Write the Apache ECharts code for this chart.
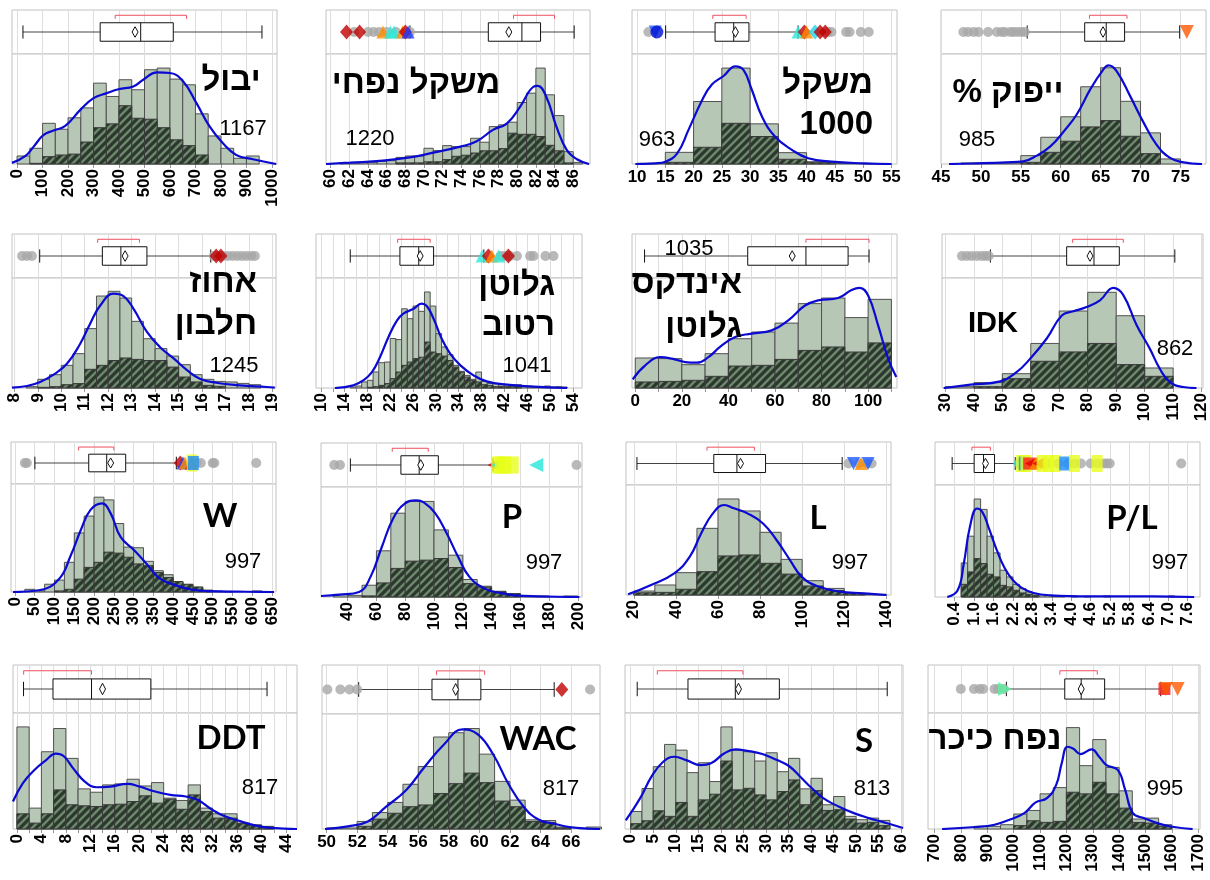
<!DOCTYPE html>
<html><head><meta charset="utf-8">
<script src="https://cdn.jsdelivr.net/npm/echarts@6/dist/echarts.min.js"></script>
<style>html,body{margin:0;padding:0;background:#fff}#c{width:1210px;height:880px}</style>
</head><body><div id="c"></div>
<script>
// ---------- DATA (heights are % of histogram panel height) ----------
// 1 יבול
const yieldBin = [0, 50];
const yieldLight = [7.3,14.3,37,31.6,42,51,73.5,61.4,76.6,67.5,85.7,87.2,77.2,72,45.6,25.5,14.3,5.2,7.3];
const yieldDark = [0,0.6,6.7,8.2,9,20,33,36.5,53,41.6,40.7,33,22,16.7,8.2,0,0,0,0];
const yieldDensity = [[-20,1],[33,7.3],[65,15.8],[104,26.4],[143,30.4],[189,34.7],[248,49.2],[300,59.9],[352,64.4],[398,68],[456,70.5],[495,76.6],[548,83.3],[600,82.7],[652,75],[704,55.3],[756,34],[808,18.8],[860,8.2],[926,4.3],[1017,0]];
const yieldBox = [23,326,485,613,961,463,385,665];
const yieldGrey = [];
const yieldMarks = [];
const yieldRange = [-20,1020];
const yieldTicks = [0,100,200,300,400,500,600,700,800,900,1000];
// 2 משקל נפחי
const twBin = [61, 1];
const twLight = [0.9,0.9,1.2,1.5,2.4,3,6,7.3,7.3,14.3,12.2,16.7,15.8,15.8,23.4,19.8,34,35.6,38,55.9,64.4,87.2,62.9,44,11.2,1.5];
const twDark = [0,0,0,0,0,0,1,1,1,2,2,4,7,8,10,12,12,14,28,27,27,25,17,12,1,0];
const twDensity = [[59.5,0],[62.1,1.2],[65.6,3],[68.5,6],[71,10.3],[73.9,15.8],[75.6,20.4],[77.4,31],[78.9,37],[80.3,52],[81.7,70],[82.2,71],[83.1,61.4],[84.2,34],[85.3,12.8],[86.4,4.3],[87.7,0]];
const twBox = [68.5,76.9,80.5,82.5,86.1,79.1,79.6,84];
const twGrey = [62.5,64,64.6,65.2,66,67,68.5];
const twMarks = [[61.7,'rd'],[63.1,'rd'],[65.6,'ot'],[66.4,'ct'],[66.8,'ct'],[67.7,'ot'],[68.0,'rd'],[68.3,'bt']];
const twRange = [59.5,87.8];
const twTicks = [60,62,64,66,68,70,72,74,76,78,80,82,84,86];
// 3 משקל 1000
const tkwBin = [10, 5];
const tkwLight = [0.6,10.6,56.8,87.2,36.5,10.3,2.1,0.6,0.3];
const tkwDark = [0,1.5,15.2,37,25,4.3,1.2,0,0];
const tkwDensity = [[9.7,0],[13.2,0.6],[15,2.1],[17.1,9.7],[19.1,31],[21.5,58],[23.2,72],[25.3,80],[27.4,88.8],[28.8,85.7],[30.3,67.5],[32.1,43.2],[34.4,25],[37.4,12.8],[40.3,5.2],[44.4,2.1],[50.3,0.6],[55,0]];
const tkwBox = [15.05,23.8,27.1,29.8,38.5,27.4,23.4,29.3];
const tkwGrey = [12,43.8,44.4,47,47.6,49.6,51];
const tkwMarks = [[13.2,'bd'],[13.5,'bc'],[38.5,'ct'],[39.6,'rd'],[40,'ot'],[41.5,'cd'],[42.4,'rd'],[43.3,'rd']];
const tkwRange = [9.1,56];
const tkwTicks = [10,15,20,25,30,35,40,45,50,55];
// 4 ייפוק %
const flourBin = [47.5, 2.5];
const flourLight = [0.9,0.9,0.9,7.6,24.3,42.9,70.2,87.5,57,28.3,4.6];
const flourDark = [0,0,0,1.5,10.6,20.7,33.7,39.5,25.2,9.4,0];
const flourDensity = [[46,0],[49.5,0.6],[53.2,1.5],[55.3,2.4],[57,7.6],[58.7,16],[60.4,29.8],[62,45],[63.7,67.8],[65.2,84.5],[66,89.7],[67,84.5],[68.7,61.7],[70.4,37.4],[72,17.6],[73.7,5.5],[75.4,1.5],[77.7,0]];
const flourBox = [55.8,63,65.7,68,74.9,65.3,63.6,68.3];
const flourGrey = [47.8,48.4,49.1,49.7,50.9,52,52.6,53,53.7,54.1,54.6,55.1,55.5];
const flourMarks = [[75.8,'od']];
const flourRange = [45,78.2];
const flourTicks = [45,50,55,60,65,70,75];
// 5 אחוז חלבון
const protBin = [8.5, 0.5];
const protLight = [1.2,7.9,12.1,20.6,31.2,54,83.6,87.9,81.8,60.6,44.8,35.8,29,21.2,12.1,7.9,6,5.5,4.2,3];
const protDark = [0,0.6,1.2,3,4,17,20.6,25,27.3,26,25,25,19,10,5.5,2.4,1.5,0,0,0];
const protDensity = [[7.9,0.3],[8.54,1.8],[9.1,5.5],[9.67,12.1],[10.24,22],[10.8,40],[11.23,58.5],[11.66,75],[12.23,85.8],[12.65,83.6],[13.08,72],[13.65,51],[14.2,37.3],[14.8,26.7],[15.37,16],[15.9,8.5],[16.6,4.8],[17.6,2.4],[18.75,0.9],[19.1,0.3]];
const protBox = [9.08,11.75,12.54,13.65,16.37,12.72,11.55,13.33];
const protGrey = [8.33,8.54,8.75,16.5,16.7,16.9,17.1,17.3,17.5,17.7,17.9,18.1,18.25];
const protMarks = [[16.6,'rd'],[16.8,'rd']];
const protRange = [7.9,19.15];
const protTicks = [8,9,10,11,12,13,14,15,16,17,18,19];
// 6 גלוטן רטוב
const wgBin = [15, 1];
const wgLight = [0.9,1.8,5.5,7,14.6,23,23.6,45,44,72,63,74.5,69.7,87.3,74.5,49.4,37.3,30.3,20.6,15.2,11.5,7.9,14.5,6,4.2,4,3,3,3,3,1.8,1.8,0.9,0.9,1.8,0.9,1.2,0.9];
const wgDark = [0,0,0,0.6,1.2,2.4,4,8.5,14.5,20.6,23.6,26.7,28,41.8,32.7,31.2,29,25,19,14.5,10,7,5.5,3,2.4,1.2,1.2,1.2,1.2,1.2,0,0,0,0,0,0,0,0];
const wgDensity = [[12.3,0],[15.55,2.4],[17.3,7],[18.8,14.5],[20.2,28],[21.7,46.4],[23.2,61.5],[24.3,67.6],[26.1,72],[27.5,76.7],[28.4,74.5],[29.6,63],[31,45],[32.5,31.2],[34.3,20.6],[36.6,11.5],[38.9,6],[42.5,3],[47.1,1.2],[53,0]];
const wgBox = [15,23.7,27,29.6,38.4,27.25,23.3,29];
const wgGrey = [41.3,42,43,44.2,46.5,47.1,49.2,50.6];
const wgMarks = [[38.1,'ct'],[39.2,'rd'],[39.8,'ot'],[41,'ct'],[42.7,'rd']];
const wgRange = [9,55.6];
const wgTicks = [10,14,18,22,26,30,34,38,42,46,50,54];
const wgGrid = [10,12,14,16,18,20,22,24,26,28,30,32,34,36,38,40,42,44,46,48,50,52,54];
// 7 אינדקס גלוטן
const giBin = [0, 10];
const giLight = [27.3,26.7,21.2,31.2,44.8,50.9,59,76.7,81.8,64,80.6];
const giDark = [5.5,6,7,10.6,20,20.6,26,34.2,37.3,32.7,41];
const giDensity = [[-1.1,7.9],[4.3,20.6],[10.7,28],[15.7,26.7],[21.4,23.6],[26.4,23],[31.4,28],[36.4,37.3],[42.9,46.4],[50,49.4],[58.6,52.4],[65.7,61.5],[72.9,75],[78.6,79.7],[87.1,81.8],[92.9,89],[96.4,91],[100,84],[104.3,57],[108.6,26.7],[112.1,10]];
const giBox = [4,48.3,73.3,91.4,100.4,67.4,73.3,100.4];
const giGrey = [];
const giMarks = [];
const giRange = [-1.4,112.4];
const giTicks = [0,20,40,60,80,100];
const giGrid = [0,10,20,30,40,50,60,70,80,90,100,110];
// 8 IDK
const idkBin = [30, 10];
const idkLight = [1.2,4.9,13,40.5,70,87,65.7,18.2];
const idkDark = [0,1.2,8.5,24.3,32.8,40.5,21.3,10.6];
const idkDensity = [[29.4,0],[38.8,3],[49.3,6],[55.1,14.6],[59.8,26.7],[65.6,45],[70.9,66],[75,69.7],[79.6,73.6],[84.3,79.7],[89,91],[92.5,84.5],[97.2,57],[101.8,35.8],[105.3,17.6],[108.8,5.5],[113.5,0.9],[118.2,0]];
const idkBox = [45.8,72.6,82.2,91.1,110.6,80.8,74.7,92.5];
const idkGrey = [35.8,37.5,39.2,41,42.7,44,45.2];
const idkMarks = [];
const idkRange = [28.8,120.5];
const idkTicks = [30,40,50,60,70,80,90,100,110,120];
// 9 W
const wBin = [25, 25];
const wLight = [2.5,1,7.2,11,27.5,54.7,70.3,87.8,85.3,63.4,41.6,41,28.4,19.7,16,8.8,6.6,4,1.6,0.9,0.6,0,0,1];
const wDark = [0,0,0,1,2.5,11.9,22.8,27.5,36.9,36,32.2,26,24.4,18,13.4,9.7,7.2,4.7,1.6,0,0,0,0,0];
const wDensity = [[-5,0],[60,1.6],[111,11.9],[141,33.8],[166,57],[191,76],[220,82],[242,72.8],[267,51],[302,38.4],[333,26],[363,13.4],[403,6.6],[444,2.5],[484,0.9],[565,0.3],[655,0]];
const wBox = [50.4,186.5,232,280,408,242,161,250];
const wGrey = [25,30,459,470,500,504,610];
const wMarks = [[418,'rd'],[425,'bt'],[430,'ot'],[446,'rt'],[448,'ys'],[451,'bs']];
const wRange = [-10,660];
const wTicks = [0,50,100,150,200,250,300,350,400,450,500,550,600,650];
// 10 P
const pBin = [30, 10];
const pLight = [2.4,1.5,10.7,42,76.2,86.9,86.9,61,38,15.9,9.8,4.6,3,0.6,0.9,0,0.9];
const pDark = [0,0,1,12.8,26,32.6,33.5,35,26.8,12.2,9,5.2,3,0,0,0,0];
const pDensity = [[21.5,0.9],[34.7,2.1],[48,4.6],[55.9,18.3],[63.8,45.7],[71.7,71.6],[79.7,84.8],[87.6,87.8],[92.9,86],[100.8,76.2],[108.8,57.9],[116.7,36.6],[124.6,18.3],[135.2,7.6],[145.8,3.7],[156.4,1.5],[172,0.6],[201,0]];
const pBox = [41.9,77,89.7,103,141,90.8,71,96];
const pGrey = [30.7,34.7,199];
const pMarks = [[141.7,'rl'],[143.5,'ys'],[144.4,'cl'],[146,'ys'],[148,'ys'],[150,'ys'],[155,'ys'],[171,'cl']];
const pRange = [21.5,202.8];
const pTicks = [40,60,80,100,120,140,160,180,200];
// 11 L
const lBin = [20, 10];
const lLight = [3.6,9.1,20.3,60.6,87.3,76.4,57,32.4,13,6,1.5,0.6];
const lDark = [2,2.4,5.2,21.2,35.5,36.4,28.8,19,8.2,4,1.5,0];
const lDensity = [[17.3,0.6],[28.2,9.1],[39.2,19.7],[46.6,34.8],[52,56],[57.5,74],[63,81.8],[67.6,78.8],[74,74.2],[81.4,65],[87.8,50],[94.2,31.8],[99.7,16.7],[107,8.2],[118,3],[129,1.5],[140,0]];
const lBox = [21.5,58,69,82.6,119,70.7,54.8,77.3];
const lGrey = [122,127,131,133];
const lMarks = [[124.4,'bd'],[128,'ot'],[131.3,'bd']];
const lRange = [16.3,142.2];
const lTicks = [20,40,60,80,100,120,140];
// 12 P/L
const plBin = [0.6, 0.2];
const plLight = [30.4,54.3,87.5,78.2,54.3,39.4,23.9,17.9,11.3,7.5,4.5,3,2,1.5,0.6,0.6,0,0.6,0,0.6,0,0,0.9,0,0,0,0,0,0,0,0,0,0.9];
const plDark = [11.3,22.4,34.3,29.9,20.3,17.9,10.4,9,6,3.6,2.4,1.5,0,0,0,0,0,0,0,0,0,0,0,0,0,0,0,0,0,0,0,0,0];
const plDensity = [[0.17,0],[0.49,6],[0.68,29.9],[0.87,62.7],[1.09,79],[1.25,76],[1.44,62.7],[1.7,41.8],[1.95,25.4],[2.2,14.9],[2.46,8.4],[2.84,3.6],[3.35,1.5],[4.6,0.6],[6.5,0.6],[7.8,0]];
const plBox = [0.32,1.0,1.29,1.63,2.27,1.35,0.93,1.5];
const plGrey = [2.4,2.6,2.9,3.3,3.6,3.9,4.1,4.3,4.6,4.8,5.0,5.1,5.19,7.4];
const plMarks = [[2.4,'cd'],[2.46,'ys'],[2.55,'bs'],[2.6,'ys'],[2.7,'rs'],[2.77,'rl'],[2.9,'ot'],[3.0,'rl'],[3.1,'ys'],[3.3,'ys'],[3.5,'ys'],[3.8,'bs'],[4.1,'ys'],[4.8,'ys']];
const plRange = [-0.21,7.98];
const plTicks = [0.4,1.0,1.6,2.2,2.8,3.4,4.0,4.6,5.2,5.8,6.4,7.0,7.6];
// 13 DDT
const ddtBin = [0, 2];
const ddtLight = [88,18,66.6,86.6,60.9,34.6,31.7,38,38.9,42.9,37.1,40,26.6,24.6,38,18,13.1,13.1,5.1,3.7,2.3];
const ddtDark = [13.1,5.1,13.1,33.7,20.9,20,19.4,20.9,21.4,23.7,28.6,22.3,25.7,17,29.4,15,9.4,9.4,4.6,2.9,1.7];
const ddtDensity = [[-0.64,23.7],[0.95,39.4],[2.86,50.9],[4.77,59.4],[6.36,65],[7.63,62.9],[9.2,52.3],[11.1,40.9],[13,36],[15.3,36.6],[18.1,38.9],[20,36.6],[22.6,32.3],[25.1,29.4],[27.6,28],[29.6,25],[31.8,17],[34,10.9],[36.6,6.6],[39.1,2.9],[41.6,0.9],[45.8,0]];
const ddtBox = [1.08,5.9,12.2,21.9,40.9,14,1.1,12.2];
const ddtGrey = [];
const ddtMarks = [];
const ddtRange = [-0.64,45.8];
const ddtTicks = [0,4,8,12,16,20,24,28,32,36,40,44];
const ddtGrid = [0,2,4,6,8,10,12,14,16,18,20,22,24,26,28,30,32,34,36,38,40,42,44];
// 14 WAC
const wacBin = [50, 1];
const wacLight = [0.9,0.9,6.6,14.3,23.1,38.9,54.3,80,83.7,87.4,65.1,41.4,25.1,8,7.4,1.7,0,1.7];
const wacDark = [0,0,2.3,8.6,13.7,19.4,20.9,30.9,39.4,48.6,40.3,24.3,19.4,6.6,5.7,0.9,0,0];
const wacDensity = [[49.9,0],[51.4,2.3],[52.7,6.6],[53.9,19.4],[55.2,33.7],[56.4,53.7],[57.7,73.7],[58.9,86.6],[59.9,82.3],[60.9,65],[61.9,39.4],[62.9,19.4],[63.9,8],[64.9,4.6],[65.9,1.7],[67.9,0]];
const wacBox = [52.1,56.9,58.6,60.1,64.9,58.45,57.2,60.35];
const wacGrey = [50.05,50.9,51.5,52,67.25];
const wacMarks = [[65.4,'rd']];
const wacRange = [49.7,67.9];
const wacTicks = [50,52,54,56,58,60,62,64,66];
// 15 S
const sBin = [0, 2.5];
const sLight = [15.1,34.9,53.7,72.9,68,48.6,57.1,40.9,88,68,66.6,58.6,65.7,49.4,60.9,34.6,43.7,20.9,28,10.9,8,9.4,7.4];
const sDark = [4.6,7.1,15.7,10.9,22.9,10.9,25.1,30,58.6,33.7,35.1,29.4,25.1,32.3,42.3,20.9,33.1,16,16.6,8.6,5.1,5.7,2.9];
const sDensity = [[-1.1,7.4],[2.1,26.6],[4.6,45.1],[7.2,58],[9.7,62.3],[12.3,59.4],[15.6,55.1],[17.8,56.6],[20.7,65.1],[23.2,68.6],[25.8,67.4],[29.2,64.6],[32.5,59.4],[35.1,54.3],[37.6,45.1],[40.2,35.1],[42.7,26.6],[46.1,19.4],[49.5,13.7],[52.8,9.4],[56.2,5.7],[60.4,0.9]];
const sBox = [1.44,12.7,23.2,32.97,56.9,23.9,5.9,24.9];
const sGrey = [];
const sMarks = [];
const sRange = [-1.27,60.4];
const sTicks = [0,5,10,15,20,25,30,35,40,45,50,55,60];
// 16 נפח כיכר
const loafBin = [850, 50];
const loafLight = [2.3,2.3,3.7,12.9,16,30.3,35.7,87.4,54.6,77.1,53.1,32.9,8.6,9.4,3.7];
const loafDark = [0,0,0,2.9,7.1,5.7,6.6,31.7,30.3,40.3,30.3,18,5.7,5.1,2.3];
const loafDensity = [[728,0],[856,1.7],[927,3.7],[984,8],[1040,13.7],[1083,22.9],[1126,26.6],[1161,38],[1182,56.6],[1204,70.9],[1225,69.4],[1254,64.6],[1296,68.6],[1324,62.3],[1352,55.1],[1395,50.9],[1423,33.7],[1452,13.7],[1494,9.4],[1551,4.6],[1608,1.7],[1679,0]];
const loafBox = [972,1193.6,1256,1345,1558,1256,1175,1317];
const loafGrey = [799,849,870,884,927,941,962,1572];
const loafMarks = [[967,'gr'],[1572,'rs'],[1577,'od'],[1622,'od']];
const loafRange = [674.5,1707];
const loafTicks = [700,800,900,1000,1100,1200,1300,1400,1500,1600,1700];

// titles and counts (text)
const titles = [['יבול'],['משקל נפחי'],['משקל','1000'],['ייפוק %\u200F'],['אחוז','חלבון'],['גלוטן','רטוב'],['אינדקס','גלוטן'],['IDK'],
                ['W'],['P'],['L'],['P/L'],['DDT'],['WAC'],['S'],['נפח כיכר']];
const counts = ['1167','1220','963','985','1245','1041','1035','862','997','997','997','997','817','817','813','995'];

const panels = [
 {bin:yieldBin, light:yieldLight, dark:yieldDark, dens:yieldDensity, box:yieldBox, grey:yieldGrey, marks:yieldMarks, range:yieldRange, ticks:yieldTicks, grid:yieldTicks},
 {bin:twBin, light:twLight, dark:twDark, dens:twDensity, box:twBox, grey:twGrey, marks:twMarks, range:twRange, ticks:twTicks, grid:twTicks},
 {bin:tkwBin, light:tkwLight, dark:tkwDark, dens:tkwDensity, box:tkwBox, grey:tkwGrey, marks:tkwMarks, range:tkwRange, ticks:tkwTicks, grid:tkwTicks},
 {bin:flourBin, light:flourLight, dark:flourDark, dens:flourDensity, box:flourBox, grey:flourGrey, marks:flourMarks, range:flourRange, ticks:flourTicks, grid:flourTicks},
 {bin:protBin, light:protLight, dark:protDark, dens:protDensity, box:protBox, grey:protGrey, marks:protMarks, range:protRange, ticks:protTicks, grid:protTicks},
 {bin:wgBin, light:wgLight, dark:wgDark, dens:wgDensity, box:wgBox, grey:wgGrey, marks:wgMarks, range:wgRange, ticks:wgTicks, grid:wgGrid},
 {bin:giBin, light:giLight, dark:giDark, dens:giDensity, box:giBox, grey:giGrey, marks:giMarks, range:giRange, ticks:giTicks, grid:giGrid},
 {bin:idkBin, light:idkLight, dark:idkDark, dens:idkDensity, box:idkBox, grey:idkGrey, marks:idkMarks, range:idkRange, ticks:idkTicks, grid:idkTicks},
 {bin:wBin, light:wLight, dark:wDark, dens:wDensity, box:wBox, grey:wGrey, marks:wMarks, range:wRange, ticks:wTicks, grid:wTicks},
 {bin:pBin, light:pLight, dark:pDark, dens:pDensity, box:pBox, grey:pGrey, marks:pMarks, range:pRange, ticks:pTicks, grid:pTicks},
 {bin:lBin, light:lLight, dark:lDark, dens:lDensity, box:lBox, grey:lGrey, marks:lMarks, range:lRange, ticks:lTicks, grid:lTicks},
 {bin:plBin, light:plLight, dark:plDark, dens:plDensity, box:plBox, grey:plGrey, marks:plMarks, range:plRange, ticks:plTicks, grid:plTicks},
 {bin:ddtBin, light:ddtLight, dark:ddtDark, dens:ddtDensity, box:ddtBox, grey:ddtGrey, marks:ddtMarks, range:ddtRange, ticks:ddtTicks, grid:ddtGrid},
 {bin:wacBin, light:wacLight, dark:wacDark, dens:wacDensity, box:wacBox, grey:wacGrey, marks:wacMarks, range:wacRange, ticks:wacTicks, grid:wacTicks},
 {bin:sBin, light:sLight, dark:sDark, dens:sDensity, box:sBox, grey:sGrey, marks:sMarks, range:sRange, ticks:sTicks, grid:sTicks},
 {bin:loafBin, light:loafLight, dark:loafDark, dens:loafDensity, box:loafBox, grey:loafGrey, marks:loafMarks, range:loafRange, ticks:loafTicks, grid:loafTicks}
];

// ---------- LAYOUT ----------
// [left, right, stripTop, stripBottom, baseline, rotateLabels]
const layout = [
 [12,277,10,54,164,1],[326,590,10,54,164,1],[632,897,10,54,164,0],[941,1206,10,54,164,0],
 [12,276,234,278,388,1],[316,582,234,278,388,1],[632,897,234,278,388,0],[942,1203,234,278,388,1],
 [11,276,442,484,592,1],[321,582,443,487,597,1],[626,891,442,485,595,1],[935,1200,442,485,597,1],
 [13,297,665,713,829,1],[322,600,665,714,829,0],[625,903,665,713,829,1],[928,1200,665,713,829,1]
];
// text positions: title lines [x,y,align], count [x,y], font kind
const titlePos = [
 [[231,81,'center']],[[416,84,'center']],[[873,84,'right'],[873,125,'right']],[[1008,93,'center']],
 [[257,283,'right'],[257,325,'right']],[[555,286,'right'],[555,326,'right']],[[742,284,'right'],[742,328,'right']],[[993,324,'center']],
 [[220,516,'center']],[[512,517,'center']],[[818,518,'center']],[[1132,518,'center']],
 [[231,738,'center']],[[538,739,'center']],[[864,741,'center']],[[995,740,'center']]
];
const countPos = [[243,129],[370,139],[657,140],[977,140],[234,366],[527,366],[689,249],[1175,349],
 [243,562],[544,563],[850,563],[1170,563],[260,788],[561,789],[872,789],[1165,789]];
const fontKind = ['h','h','h','h','h','h','h','a','l','l','l','l','l','l','l','h'];

const FONT = '"Liberation Sans", Arial, "DejaVu Sans", sans-serif';
const MK = {
 rd:{s:'diamond', c:'#c00000', z:[13,15], r:0},
 cd:{s:'diamond', c:'#22d3e8', z:[13,15], r:0},
 ot:{s:'triangle', c:'#ff8c00', z:13, r:0},
 ct:{s:'triangle', c:'#30e8d8', z:13, r:0},
 bt:{s:'triangle', c:'#1f3cff', z:13, r:0},
 rt:{s:'triangle', c:'#d00000', z:13, r:0},
 bd:{s:'triangle', c:'#1f5cff', z:13, r:180},
 od:{s:'triangle', c:'#ff5a00', z:14, r:180},
 bc:{s:'circle', c:'#0010d0', z:13, r:0},
 ys:{s:'rect', c:'#e8ff1a', z:[11,17], r:0},
 bs:{s:'rect', c:'#1a8cff', z:[11,14], r:0},
 rs:{s:'rect', c:'#ff1a1a', z:12, r:0},
 rl:{s:'triangle', c:'#e00000', z:13, r:90},
 cl:{s:'triangle', c:'#26e6d9', z:14, r:90},
 gr:{s:'triangle', c:'#5cf0a0', z:14, r:-90}
};

function makeHatch() {
  const s = 8, cv = document.createElement('canvas');
  cv.width = s; cv.height = s;
  const g = cv.getContext('2d');
  g.fillStyle = '#6c886c'; g.fillRect(0, 0, s, s);
  g.strokeStyle = '#2c382d'; g.lineWidth = 3.2;
  g.beginPath();
  g.moveTo(-s/2, s/2); g.lineTo(s/2, -s/2);
  g.moveTo(0, s); g.lineTo(s, 0);
  g.moveTo(s/2, s*1.5); g.lineTo(s*1.5, s/2);
  g.stroke();
  return cv;
}
const hatch = {image: makeHatch(), repeat: 'repeat'};

function barRender(fill, stroke) {
  return function (params, api) {
    const h = api.value(2);
    if (!(h > 0)) return null;
    const a = api.coord([api.value(0), h]);
    const b = api.coord([api.value(1), 0]);
    return {type: 'rect', shape: {x: a[0], y: a[1], width: b[0] - a[0], height: b[1] - a[1]},
            style: {fill: fill, stroke: stroke, lineWidth: 1}};
  };
}
function boxRender(params, api) {
  const v = i => api.value(i);
  const P = (x, y) => api.coord([x, y]);
  const ln = (p, q, st) => ({type: 'line', shape: {x1: p[0], y1: p[1], x2: q[0], y2: q[1]}, style: st});
  const blk = {stroke: '#111', lineWidth: 1};
  const red = {stroke: '#f0505f', lineWidth: 1};
  const ch = [];
  ch.push(ln(P(v(0), 0.5), P(v(1), 0.5), {stroke: '#444', lineWidth: 1}));
  ch.push(ln(P(v(3), 0.5), P(v(4), 0.5), {stroke: '#444', lineWidth: 1}));
  ch.push(ln(P(v(0), 0.35), P(v(0), 0.65), blk));
  ch.push(ln(P(v(4), 0.35), P(v(4), 0.65), blk));
  const a = P(v(1), 0.71), b = P(v(3), 0.29);
  ch.push({type: 'rect', shape: {x: a[0], y: a[1], width: b[0] - a[0], height: b[1] - a[1]},
           style: {fill: '#fff', stroke: '#111', lineWidth: 1}});
  ch.push(ln(P(v(2), 0.71), P(v(2), 0.29), blk));
  const c = P(v(5), 0.5), t = P(v(5), 0.62), bt = P(v(5), 0.38);
  ch.push({type: 'polygon', shape: {points: [[c[0], t[1]], [c[0] + 3, c[1]], [c[0], bt[1]], [c[0] - 3, c[1]]]},
           style: {fill: '#fff', stroke: '#111', lineWidth: 1}});
  ch.push(ln(P(v(6), 0.88), P(v(7), 0.88), red));
  ch.push(ln(P(v(6), 0.88), P(v(6), 0.80), red));
  ch.push(ln(P(v(7), 0.88), P(v(7), 0.80), red));
  return {type: 'group', children: ch};
}

const grids = [], xAxes = [], yAxes = [], series = [], graphics = [];
const splitCol = '#dedede', frameCol = '#c2c2c2';
panels.forEach((p, i) => {
  const L = layout[i];
  const gs = 2 * i, gh = 2 * i + 1;
  grids.push({left: L[0], width: L[1] - L[0], top: L[2], height: L[3] - L[2], show: true,
              borderColor: frameCol, borderWidth: 1, backgroundColor: '#fff', outerBoundsMode: 'none', containLabel: false});
  grids.push({left: L[0], width: L[1] - L[0], top: L[3], height: L[4] - L[3], show: true,
              borderColor: frameCol, borderWidth: 1, backgroundColor: '#fff', outerBoundsMode: 'none', containLabel: false});
  const dec = p === panels[11] ? 1 : 0;
  xAxes.push({gridIndex: gs, type: 'value', min: p.range[0], max: p.range[1],
              axisLine: {show: false}, axisTick: {show: false, customValues: p.grid},
              axisLabel: {show: false, customValues: p.ticks},
              splitLine: {show: true, lineStyle: {color: splitCol, width: 1}}});
  xAxes.push({gridIndex: gh, type: 'value', min: p.range[0], max: p.range[1],
              axisLine: {show: false},
              axisTick: {show: true, customValues: p.grid, length: 4, lineStyle: {color: '#999'}},
              axisLabel: {show: true, customValues: p.ticks, rotate: L[5] ? 90 : 0, margin: 5,
                          color: '#000', fontWeight: 'bold', fontSize: 17, fontFamily: FONT,
                          formatter: val => dec ? Number(val).toFixed(1) : String(val)},
              splitLine: {show: true, lineStyle: {color: splitCol, width: 1}}});
  yAxes.push({gridIndex: gs, type: 'value', min: 0, max: 1, show: false});
  yAxes.push({gridIndex: gh, type: 'value', min: 0, max: 100, show: false});

  const bins = (arr) => arr.map((h, k) => [p.bin[0] + k * p.bin[1], p.bin[0] + (k + 1) * p.bin[1], h]);
  series.push({type: 'custom', xAxisIndex: gh, yAxisIndex: gh, renderItem: barRender('#b7c7b5', '#505050'),
               data: bins(p.light), encode: {x: [0, 1], y: 2}, silent: true, z: 2});
  series.push({type: 'custom', xAxisIndex: gh, yAxisIndex: gh, renderItem: barRender(hatch, '#3a3a3a'),
               data: bins(p.dark), encode: {x: [0, 1], y: 2}, silent: true, z: 3});
  series.push({type: 'line', xAxisIndex: gh, yAxisIndex: gh, data: p.dens, smooth: 0.45,
               showSymbol: false, symbol: 'none', lineStyle: {color: '#0a0ad2', width: 2.2}, z: 5, silent: true});
  series.push({type: 'custom', xAxisIndex: gs, yAxisIndex: gs, renderItem: boxRender,
               data: [p.box], encode: {x: [0, 1, 2, 3, 4, 5, 6, 7]}, silent: true, z: 3});
  if (p.grey.length) series.push({type: 'scatter', xAxisIndex: gs, yAxisIndex: gs,
               data: p.grey.map(x => [x, 0.5]), symbol: 'circle', symbolSize: 10,
               itemStyle: {color: '#a8a8a8'}, z: 4, silent: true});
  if (p.marks.length) series.push({type: 'scatter', xAxisIndex: gs, yAxisIndex: gs,
               data: p.marks.map(m => { const k = MK[m[1]]; return {value: [m[0], 0.5], symbol: k.s, symbolSize: k.z, symbolRotate: k.r, itemStyle: {color: k.c}}; }),
               z: 5, silent: true});

  const kind = fontKind[i];
  const tfont = kind === 'l' ? 'bold 33px Lato, "Open Sans", sans-serif'
              : kind === 'a' ? 'bold 29px ' + FONT : 'bold 33px ' + FONT;
  titles[i].forEach((t, j) => {
    const tp = titlePos[i][j];
    graphics.push({type: 'text', x: tp[0], y: tp[1], z: 100,
      style: {text: t, font: tfont, fill: '#000', textAlign: tp[2], textVerticalAlign: 'middle', align: tp[2], verticalAlign: 'middle'}});
  });
  graphics.push({type: 'text', x: countPos[i][0], y: countPos[i][1], z: 100,
    style: {text: counts[i], font: '22px ' + FONT, fill: '#000', textAlign: 'center', textVerticalAlign: 'middle', align: 'center', verticalAlign: 'middle'}});
});

const chart = echarts.init(document.getElementById('c'), null, {renderer: 'canvas'});
chart.setOption({animation: false, backgroundColor: '#fff', grid: grids, xAxis: xAxes, yAxis: yAxes, series: series, graphic: graphics});
</script></body></html>
